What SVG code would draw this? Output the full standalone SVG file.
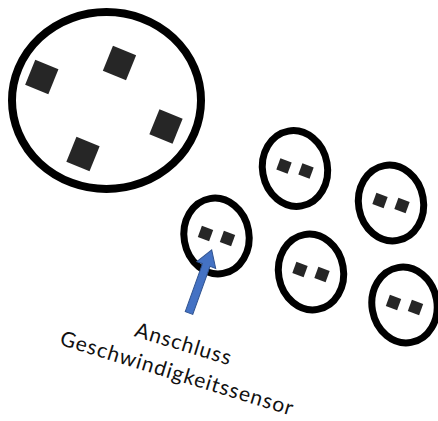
<svg xmlns="http://www.w3.org/2000/svg" xmlns:xlink="http://www.w3.org/1999/xlink" width="438" height="421" viewBox="0 0 438 421">
<style>
.big{fill:none;stroke:#000;stroke-width:8}
.ring{fill:none;stroke:#000;stroke-width:7}
.sq{fill:#262626}
.lbl{font-family:Lato,"Open Sans","Liberation Sans",sans-serif;font-size:21px;letter-spacing:1px;fill:#111}
.arr{fill:#4472C4;stroke:#2F528F;stroke-width:1}
</style>
<defs>
<rect id="pin" x="-6" y="-6" width="12" height="12" class="sq"/>
<g id="pair">
<use xlink:href="#pin" transform="translate(-11,-2.5) rotate(20)"/>
<use xlink:href="#pin" transform="translate(11,2.5) rotate(20)"/>
</g>
</defs>
<rect width="438" height="421" fill="#fff"/>
<g id="plug">
<ellipse class="big" cx="106.5" cy="100.5" rx="94.5" ry="88.5"/>
<rect class="sq" x="-12.5" y="-13.5" width="25" height="27" transform="translate(41.8,77) rotate(22)"/>
<rect class="sq" x="-12.5" y="-13.5" width="25" height="27" transform="translate(119.5,63) rotate(22)"/>
<rect class="sq" x="-12.5" y="-13.5" width="25" height="27" transform="translate(166,126.5) rotate(22)"/>
<rect class="sq" x="-12.5" y="-13.5" width="25" height="27" transform="translate(83,154) rotate(22)"/>
</g>
<g id="socket1" transform="translate(295,168.5)">
<ellipse class="ring" rx="32.5" ry="38" transform="rotate(-10)"/>
<use xlink:href="#pair"/>
</g>
<g id="socket2" transform="translate(391,203)">
<ellipse class="ring" rx="32.5" ry="38" transform="rotate(-10)"/>
<use xlink:href="#pair"/>
</g>
<g id="socket3" transform="translate(216.5,236)">
<ellipse class="ring" rx="32.5" ry="38" transform="rotate(-10)"/>
<use xlink:href="#pair"/>
</g>
<g id="socket4" transform="translate(311,272)">
<ellipse class="ring" rx="32.5" ry="38" transform="rotate(-10)"/>
<use xlink:href="#pair"/>
</g>
<g id="socket5" transform="translate(404.5,305)">
<ellipse class="ring" rx="32.5" ry="38" transform="rotate(-10)"/>
<use xlink:href="#pair"/>
</g>
<g id="connectors">
<polygon class="arr" transform="translate(189,313) rotate(19.8)" points="-4,0 4,0 4,-51 10,-51 0,-67 -10,-51 -4,-51"/>
</g>
<g id="label" transform="translate(57,344) rotate(17)">
<text class="lbl" x="121" y="-30" text-anchor="middle">Anschluss</text>
<text class="lbl" x="123.5" y="0" text-anchor="middle">Geschwindigkeitssensor</text>
</g>
</svg>
